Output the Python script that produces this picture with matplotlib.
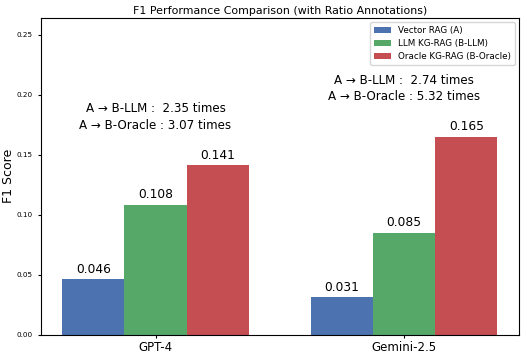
import numpy as np
import matplotlib.pyplot as plt

models = ["GPT-4", "Gemini-2.5"]
vector_rag = [0.046, 0.031]
llm_kg = [0.108, 0.085]
oracle_kg = [0.141, 0.165]
ratio_llm = [2.35, 2.74]
ratio_oracle = [3.07, 5.32]

labels = ["Vector RAG (A)", "LLM KG-RAG (B-LLM)", "Oracle KG-RAG (B-Oracle)"]
colors = ["#4C72B0", "#55A868", "#C44E52"]

x = np.arange(len(models))
width = 0.25

fig, ax = plt.subplots(figsize=(5.27, 3.56), dpi=100)
series = [vector_rag, llm_kg, oracle_kg]
for i, vals in enumerate(series):
    bars = ax.bar(x + (i - 1) * width, vals, width, label=labels[i], color=colors[i])
    for b, v in zip(bars, vals):
        ax.text(b.get_x() + b.get_width() / 2, v + 0.003, f"{v:.3f}",
                ha="center", va="bottom", fontsize=8.8)

for i in range(len(models)):
    top = max(vector_rag[i], llm_kg[i], oracle_kg[i])
    ax.text(x[i], top + 0.028,
            f"A → B-LLM :  {ratio_llm[i]:.2f} times\nA → B-Oracle : {ratio_oracle[i]:.2f} times",
            ha="center", va="bottom", fontsize=8.6, linespacing=1.35)

ax.set_xticks(x)
ax.set_xticklabels(models, fontsize=8.5)
ax.tick_params(axis="y", labelsize=5.2, length=2.5)
ax.tick_params(axis="x", length=2.5, pad=2)
ax.set_ylim(0, max(oracle_kg) * 1.6)
ax.set_ylabel("F1 Score", fontsize=9, va="center")
ax.yaxis.set_label_coords(-0.066, 0.5)
ax.set_title("F1 Performance Comparison (with Ratio Annotations)", fontsize=7.9, pad=3)
ax.legend(loc="upper right", fontsize=6.3)

plt.subplots_adjust(left=0.077, right=0.985, top=0.95, bottom=0.06)
plt.savefig("out.png")
